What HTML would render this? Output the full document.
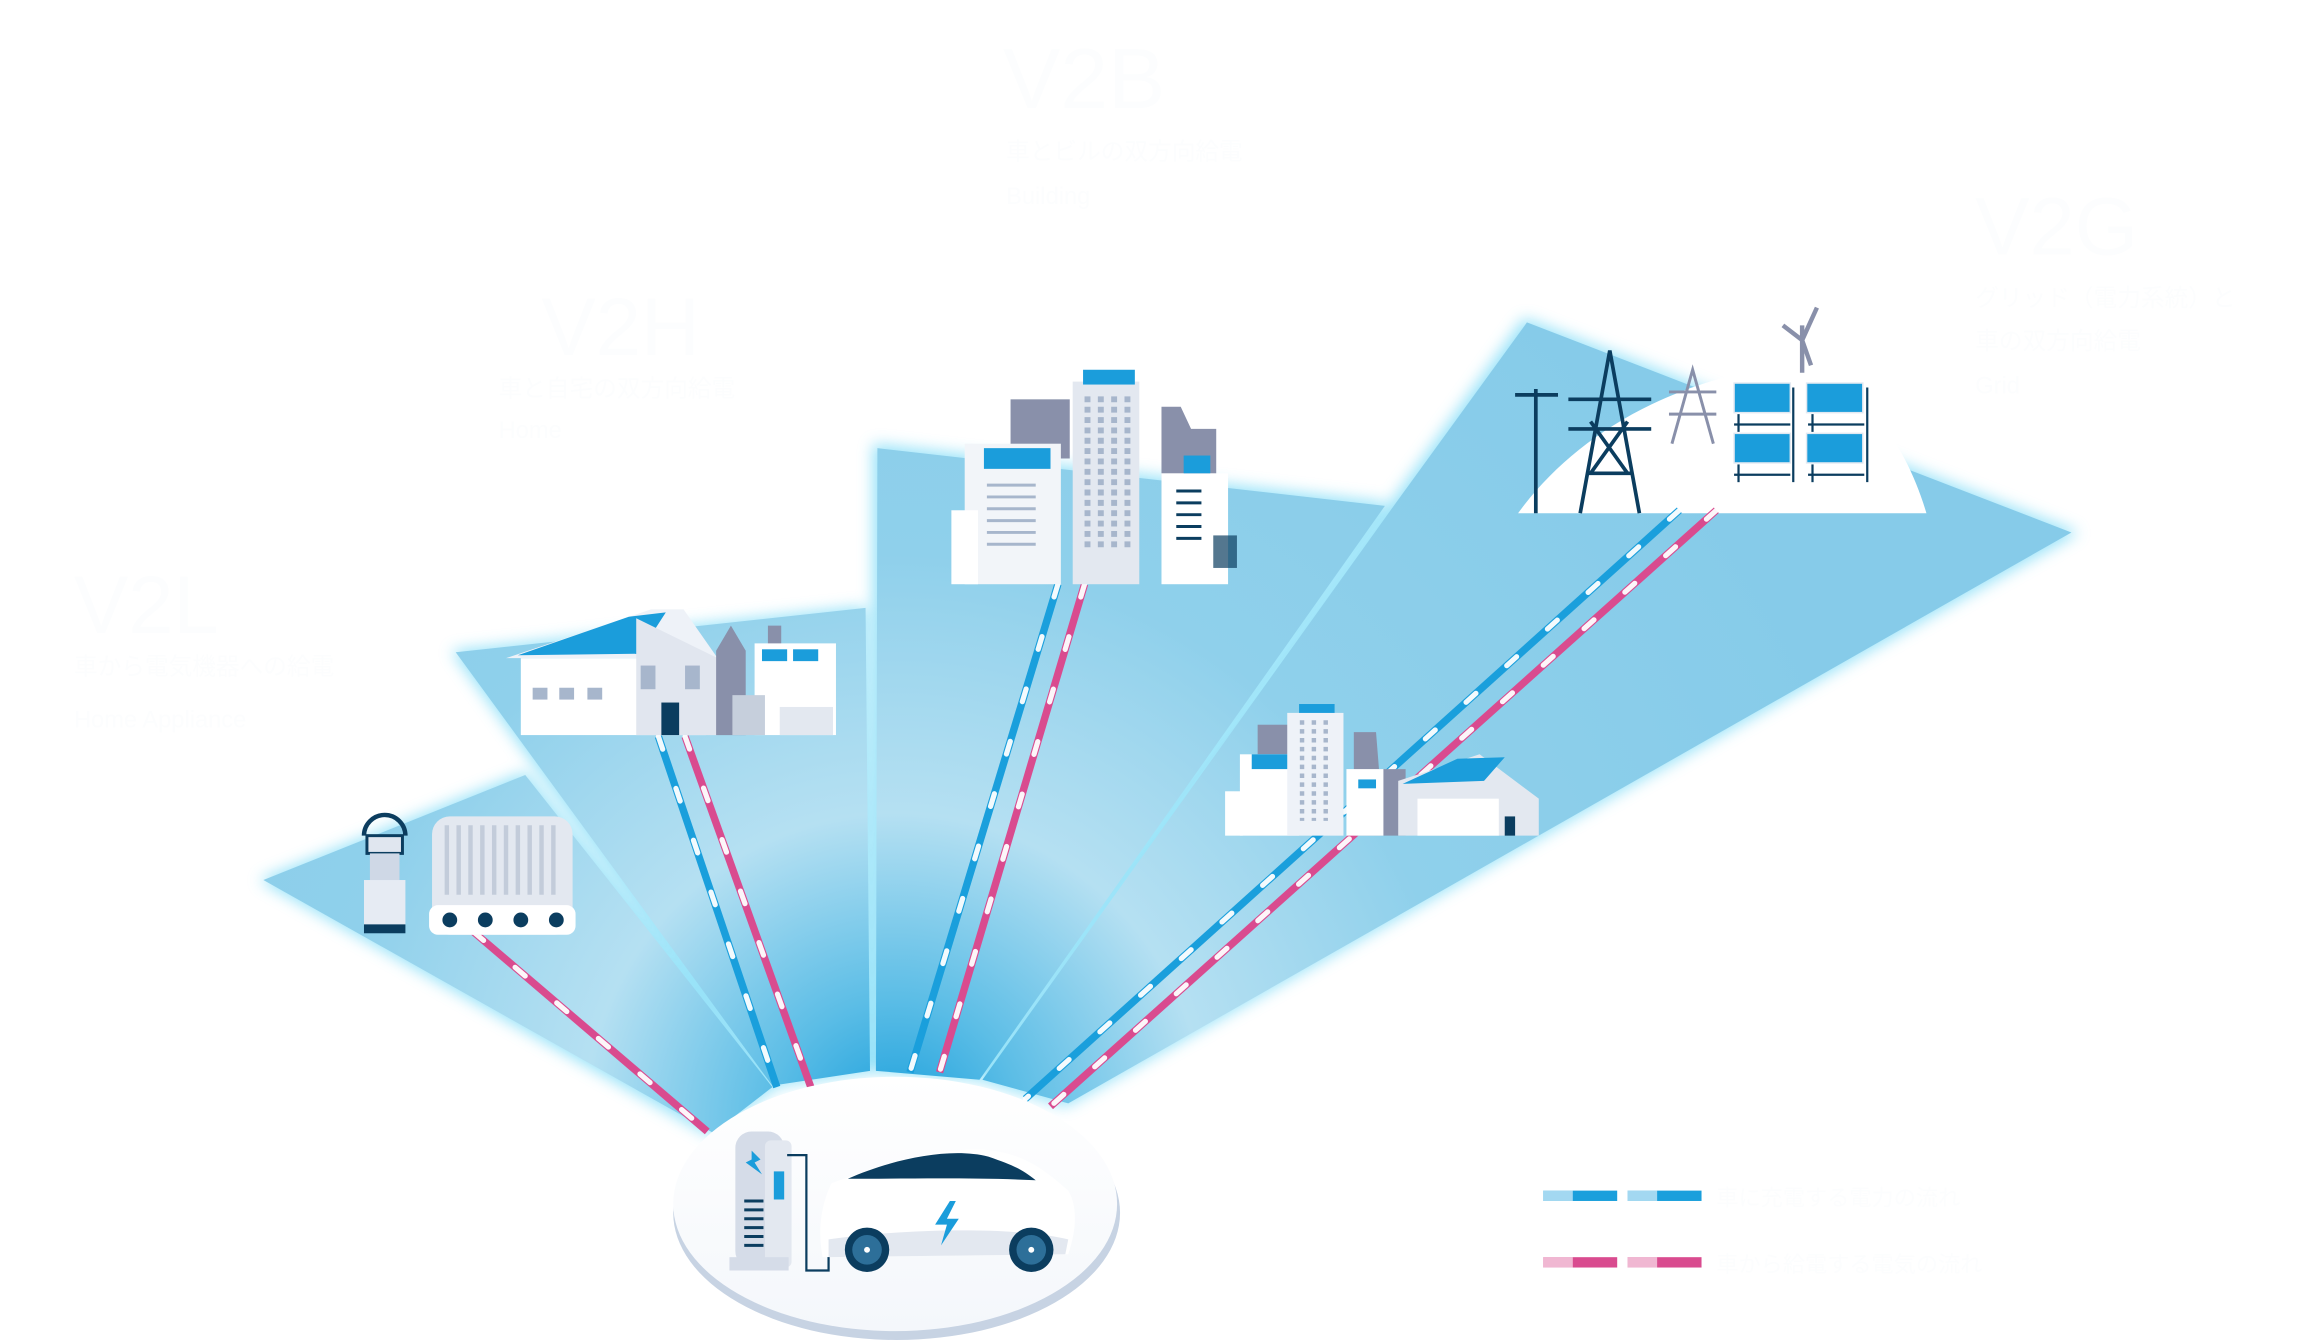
<!DOCTYPE html>
<html><head><meta charset="utf-8"><style>
html,body{margin:0;padding:0;background:#fff;width:2320px;height:1340px;overflow:hidden}
svg{display:block}
text{font-family:"Liberation Sans","Noto Sans CJK JP",sans-serif;fill:#fcfdfe}
</style></head><body>
<svg width="2320" height="1340" viewBox="0 0 1568 906" preserveAspectRatio="none" xmlns="http://www.w3.org/2000/svg">
<defs>
<radialGradient id="fan" cx="605" cy="760" r="700" gradientUnits="userSpaceOnUse">
<stop offset="0" stop-color="#1a9fdc"/>
<stop offset="0.12" stop-color="#5bbde6"/>
<stop offset="0.3" stop-color="#b5e0f2"/>
<stop offset="0.55" stop-color="#8fd0eb"/>
<stop offset="1" stop-color="#86cbe9"/>
</radialGradient>
<filter id="glow" x="-10%" y="-10%" width="120%" height="120%"><feGaussianBlur stdDeviation="5"/></filter>
<linearGradient id="car" x1="0" y1="0" x2="0" y2="1"><stop offset="0" stop-color="#fff"/><stop offset="1" stop-color="#f4f7fb"/></linearGradient>
</defs>
<rect width="1568" height="906" fill="#fff"/>

<g fill="#7fdcf7" opacity="0.8" filter="url(#glow)">
<polygon points="175,595 355,522 525,735 480,768"/>
<polygon points="305,440 585,410 590,725 520,735"/>
<polygon points="590,300 938,340 660,730 590,725"/>
<polygon points="660,730 940,340 1030,215 1405,360 720,748"/>
</g>
<g fill="url(#fan)">
<polygon points="178,595 355,524 522,735 482,766"/>
<polygon points="308,441 585,411 588,724 522,734"/>
<polygon points="593,303 936,342 662,730 592,724"/>
<polygon points="664,730 942,342 1032,218 1400,360 722,746"/>
</g>

<path d="M1026,347 C1060,300 1120,260 1200,248 C1250,250 1285,290 1302,347 Z" fill="#fff"/>

<g stroke-linecap="butt" fill="none">
<line x1="320" y1="630" x2="478" y2="765" stroke="#d94b8f" stroke-width="5"/>
<line x1="445" y1="498" x2="525" y2="735" stroke="#1a9fdc" stroke-width="5"/>
<line x1="463" y1="498" x2="548" y2="735" stroke="#d94b8f" stroke-width="5"/>
<line x1="715" y1="395" x2="615" y2="725" stroke="#1a9fdc" stroke-width="5"/>
<line x1="733" y1="395" x2="635" y2="725" stroke="#d94b8f" stroke-width="5"/>
<line x1="1135" y1="345" x2="693" y2="743" stroke="#1a9fdc" stroke-width="5"/>
<line x1="1160" y1="345" x2="710" y2="748" stroke="#d94b8f" stroke-width="5"/>
</g>
<g stroke="#fff" stroke-width="3.5" stroke-linecap="round" stroke-dasharray="9 28" fill="none" opacity="0.95">
<line x1="320" y1="630" x2="478" y2="765"/>
<line x1="445" y1="498" x2="525" y2="735"/>
<line x1="463" y1="498" x2="548" y2="735"/>
<line x1="715" y1="395" x2="615" y2="725"/>
<line x1="733" y1="395" x2="635" y2="725"/>
<line x1="1135" y1="345" x2="693" y2="743"/>
<line x1="1160" y1="345" x2="710" y2="748"/>
</g>

<g>
<path d="M246,565 a14,14 0 0 1 28,0" fill="none" stroke="#0b3d5f" stroke-width="3"/>
<rect x="248" y="565" width="24" height="12" fill="#e0e6ef" stroke="#0b3d5f" stroke-width="2"/>
<rect x="250" y="577" width="20" height="18" fill="#cfd8e6"/>
<rect x="246" y="595" width="28" height="30" fill="#e6ebf3"/>
<rect x="246" y="625" width="28" height="6" fill="#0b3d5f"/>
<rect x="292" y="552" width="95" height="80" rx="12" fill="#e3e8f0"/>
<g stroke="#c3ccda" stroke-width="3">
<line x1="302" y1="558" x2="302" y2="605"/><line x1="310" y1="558" x2="310" y2="605"/><line x1="318" y1="558" x2="318" y2="605"/><line x1="326" y1="558" x2="326" y2="605"/><line x1="334" y1="558" x2="334" y2="605"/><line x1="342" y1="558" x2="342" y2="605"/><line x1="350" y1="558" x2="350" y2="605"/><line x1="358" y1="558" x2="358" y2="605"/><line x1="366" y1="558" x2="366" y2="605"/><line x1="374" y1="558" x2="374" y2="605"/>
</g>
<rect x="290" y="612" width="99" height="20" rx="6" fill="#fff"/>
<g fill="#0b3d5f"><circle cx="304" cy="622" r="5"/><circle cx="328" cy="622" r="5"/><circle cx="352" cy="622" r="5"/><circle cx="376" cy="622" r="5"/></g>
</g>

<g>
<rect x="352" y="445" width="125" height="52" fill="#fff"/>
<polygon points="342,445 440,412 462,412 485,445" fill="#eef2f8"/>
<polygon points="350,443 425,417 450,414 432,442" fill="#1b9ddb"/>
<polygon points="430,418 485,445 485,497 430,497" fill="#e1e6ef"/>
<rect x="447" y="475" width="12" height="22" fill="#0b3d5f"/>
<g fill="#a7b6cc"><rect x="360" y="465" width="10" height="8"/><rect x="378" y="465" width="10" height="8"/><rect x="397" y="465" width="10" height="8"/><rect x="433" y="450" width="10" height="16"/><rect x="463" y="450" width="10" height="16"/></g>
<polygon points="484,440 494,423 504,440 504,497 484,497" fill="#8990aa"/>
<rect x="519" y="423" width="9" height="15" fill="#8990aa"/>
<rect x="510" y="435" width="55" height="62" fill="#fff"/>
<g fill="#1b9ddb"><rect x="515" y="439" width="17" height="8"/><rect x="536" y="439" width="17" height="8"/></g>
<rect x="495" y="470" width="22" height="27" fill="#c6cfdc"/>
<rect x="527" y="478" width="36" height="19" fill="#e3e8f0"/>
</g>

<g>
<rect x="683" y="270" width="40" height="40" fill="#8990aa"/>
<polygon points="785,275 798,275 805,290 822,290 822,350 785,350" fill="#8990aa"/>
<rect x="725" y="258" width="45" height="137" fill="#e3e8f0"/>
<rect x="732" y="250" width="35" height="10" fill="#1b9ddb"/>
<rect x="652" y="300" width="65" height="95" fill="#f2f5f9"/>
<rect x="665" y="303" width="45" height="14" fill="#1b9ddb"/>
<rect x="643" y="345" width="18" height="50" fill="#fff"/>
<g stroke="#a7b6cc" stroke-width="2"><line x1="667" y1="328" x2="700" y2="328"/><line x1="667" y1="336" x2="700" y2="336"/><line x1="667" y1="344" x2="700" y2="344"/><line x1="667" y1="352" x2="700" y2="352"/><line x1="667" y1="360" x2="700" y2="360"/><line x1="667" y1="368" x2="700" y2="368"/></g>
<g stroke="#a7b6cc" stroke-width="4" stroke-dasharray="4 3"><line x1="735" y1="268" x2="735" y2="370"/><line x1="744" y1="268" x2="744" y2="370"/><line x1="753" y1="268" x2="753" y2="370"/><line x1="762" y1="268" x2="762" y2="370"/></g>
<rect x="785" y="320" width="45" height="75" fill="#fff"/>
<rect x="800" y="308" width="18" height="12" fill="#1b9ddb"/>
<g stroke="#0b3d5f" stroke-width="2"><line x1="795" y1="332" x2="812" y2="332"/><line x1="795" y1="340" x2="812" y2="340"/><line x1="795" y1="348" x2="812" y2="348"/><line x1="795" y1="356" x2="812" y2="356"/><line x1="795" y1="364" x2="812" y2="364"/></g>
<rect x="820" y="362" width="16" height="22" fill="#0b3d5f" opacity="0.7"/>
</g>

<g>
<rect x="850" y="490" width="22" height="20" fill="#8990aa"/>
<polygon points="915,495 930,495 932,520 950,520 950,565 915,565" fill="#8990aa"/>
<rect x="838" y="510" width="40" height="55" fill="#fff"/>
<rect x="846" y="510" width="26" height="10" fill="#1b9ddb"/>
<rect x="828" y="535" width="12" height="30" fill="#fff"/>
<rect x="870" y="482" width="38" height="83" fill="#eef2f8"/>
<rect x="878" y="476" width="24" height="6" fill="#1b9ddb"/>
<g stroke="#a7b6cc" stroke-width="3" stroke-dasharray="3 3"><line x1="880" y1="487" x2="880" y2="555"/><line x1="888" y1="487" x2="888" y2="555"/><line x1="896" y1="487" x2="896" y2="555"/></g>
<rect x="910" y="520" width="25" height="45" fill="#fff"/>
<rect x="918" y="527" width="12" height="6" fill="#1b9ddb"/>
<polygon points="945,528 1000,510 1040,540 1040,565 945,565" fill="#e3e8f0"/>
<polygon points="948,530 985,513 1017,512 1003,528" fill="#1b9ddb"/>
<rect x="958" y="540" width="55" height="25" fill="#fff"/>
<rect x="1017" y="552" width="7" height="13" fill="#0b3d5f"/>
</g>

<g stroke="#0b3d5f" stroke-width="2.5" fill="none">
<line x1="1038" y1="263" x2="1038" y2="347"/><line x1="1024" y1="267" x2="1053" y2="267"/>
<path d="M1068,347 L1088,237 L1108,347 M1060,270 H1116 M1060,290 H1116 M1075,285 L1100,320 M1100,285 L1075,320 M1072,320 H1104"/>
</g>
<g stroke="#8990aa" stroke-width="2" fill="none"><path d="M1130,300 L1144,250 L1158,300 M1128,265 H1160 M1128,280 H1160"/></g>
<g stroke="#8990aa" stroke-width="3"><line x1="1218" y1="252" x2="1218" y2="220"/><line x1="1218" y1="230" x2="1228" y2="208"/><line x1="1218" y1="230" x2="1205" y2="220"/><line x1="1218" y1="230" x2="1224" y2="247"/></g>
<g>
<rect x="1172" y="259" width="38" height="20" fill="#1b9ddb" stroke="#e1e8f1"/>
<rect x="1221" y="259" width="38" height="20" fill="#1b9ddb" stroke="#e1e8f1"/>
<rect x="1172" y="293" width="38" height="20" fill="#1b9ddb" stroke="#e1e8f1"/>
<rect x="1221" y="293" width="38" height="20" fill="#1b9ddb" stroke="#e1e8f1"/>
<g stroke="#0b3d5f" stroke-width="1.5"><line x1="1175" y1="280" x2="1175" y2="292"/><line x1="1172" y1="287" x2="1210" y2="287"/><line x1="1225" y1="280" x2="1225" y2="292"/><line x1="1222" y1="287" x2="1260" y2="287"/><line x1="1175" y1="314" x2="1175" y2="326"/><line x1="1172" y1="321" x2="1210" y2="321"/><line x1="1225" y1="314" x2="1225" y2="326"/><line x1="1222" y1="321" x2="1260" y2="321"/><line x1="1212" y1="262" x2="1212" y2="326"/><line x1="1262" y1="262" x2="1262" y2="326"/></g>
</g>

<ellipse cx="606" cy="820" rx="151" ry="86" fill="#c7d3e3"/>
<ellipse cx="605" cy="814" rx="150" ry="86" fill="url(#car)"/>
<rect x="497" y="765" width="33" height="92" rx="11" fill="#d5dce8"/>
<rect x="517" y="771" width="18" height="86" rx="4" fill="#e3e8f0"/>
<rect x="493" y="850" width="40" height="9" fill="#d5dce8"/>
<rect x="523" y="792" width="7" height="19" fill="#1b9ddb"/>
<polygon points="508,778 514,784 510,786 515,794 504,786 508,784" fill="#1b9ddb"/>
<g stroke="#0b3d5f" stroke-width="2"><line x1="503" y1="812" x2="516" y2="812"/><line x1="503" y1="818" x2="516" y2="818"/><line x1="503" y1="824" x2="516" y2="824"/><line x1="503" y1="830" x2="516" y2="830"/><line x1="503" y1="836" x2="516" y2="836"/><line x1="503" y1="842" x2="516" y2="842"/></g>
<path d="M532,781 H545 V859 H560 V848" fill="none" stroke="#0b3d5f" stroke-width="1.5"/>
<path d="M556,850 C552,830 556,812 562,800 C590,790 620,778 660,777 C690,778 705,790 722,805 C728,815 728,830 722,848 Z" fill="#fff"/>
<path d="M560,838 C600,832 680,828 722,838 L720,848 L560,850 Z" fill="#e3e8f0"/>
<path d="M573,797 C600,785 640,775 668,782 C685,788 690,790 700,798 C660,796 610,797 573,797 Z" fill="#0b3d5f"/>
<polygon points="642,812 632,828 640,828 636,842 648,824 640,824 646,812" fill="#1b9ddb"/>
<circle cx="586" cy="845" r="15" fill="#0b3d5f"/><circle cx="586" cy="845" r="10" fill="#2d6f99"/><circle cx="586" cy="845" r="2" fill="#fff"/>
<circle cx="697" cy="845" r="15" fill="#0b3d5f"/><circle cx="697" cy="845" r="10" fill="#2d6f99"/><circle cx="697" cy="845" r="2" fill="#fff"/>

<rect x="1043" y="805" width="50" height="7" fill="#1a9fdc"/><rect x="1100" y="805" width="50" height="7" fill="#1a9fdc"/>
<rect x="1043" y="850" width="50" height="7" fill="#d94b8f"/><rect x="1100" y="850" width="50" height="7" fill="#d94b8f"/>
<rect x="1043" y="805" width="20" height="7" fill="#fff" opacity="0.6"/><rect x="1100" y="805" width="20" height="7" fill="#fff" opacity="0.6"/>
<rect x="1043" y="850" width="20" height="7" fill="#fff" opacity="0.6"/><rect x="1100" y="850" width="20" height="7" fill="#fff" opacity="0.6"/>
<text x="1160" y="815" font-size="15">車に充電する電力の流れ</text>
<text x="1160" y="860" font-size="15">車から給電する電気の流れ</text>

<text x="678" y="73" font-size="58">V2B</text>
<text x="680" y="108" font-size="16">車とビルの双方向給電</text>
<text x="680" y="138" font-size="16">Building</text>
<text x="366" y="240" font-size="55">V2H</text>
<text x="337" y="268" font-size="16">車と自宅の双方向給電</text>
<text x="337" y="296" font-size="16">Home</text>
<text x="50" y="428" font-size="55">V2L</text>
<text x="50" y="456" font-size="16">車から電気機器への給電</text>
<text x="50" y="492" font-size="16">Home Appliance</text>
<text x="1335" y="172" font-size="55">V2G</text>
<text x="1335" y="207" font-size="16">グリッド（電力系統）と</text>
<text x="1335" y="236" font-size="16">車の双方向給電</text>
<text x="1335" y="266" font-size="16">Grid</text>
</svg>
</body></html>
